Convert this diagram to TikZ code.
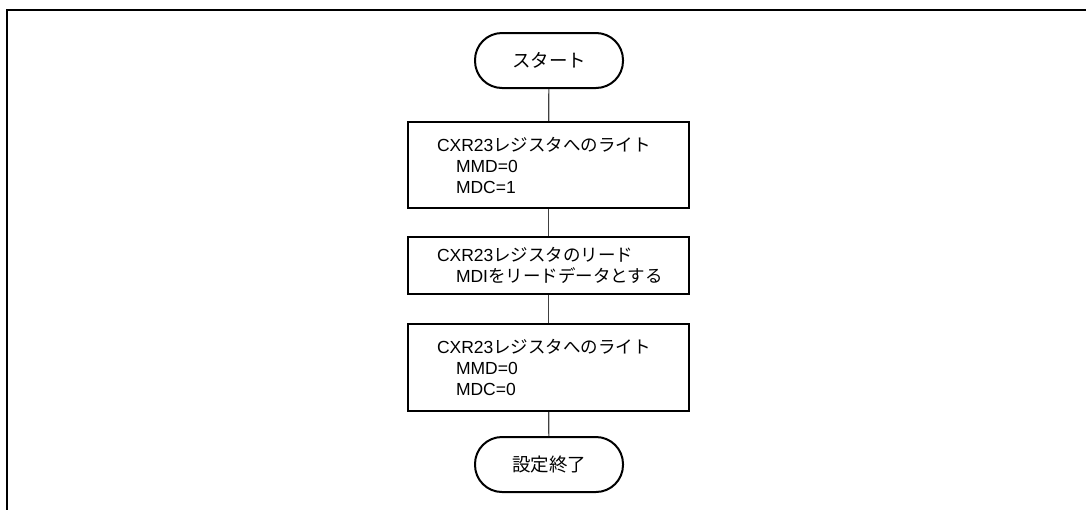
\documentclass[tikz,border=0pt]{standalone}
\usepackage{fontspec}
\setmainfont{Liberation Sans}
\newfontfamily\cjk{Noto Sans CJK JP}
\newcommand{\J}[1]{{\cjk #1}}
\begin{document}
\begin{tikzpicture}[x=1pt,y=-1pt,
  term/.style={draw, line width=2pt, rounded corners=27pt, minimum width=148pt, minimum height=55pt, inner sep=0pt, font=\fontsize{18.5}{22}\selectfont\cjk},
  procbox/.style={draw, line width=2.4pt, minimum width=281pt, inner sep=0pt},
  proctext/.style={anchor=west, align=left, inner sep=0pt, font=\fontsize{17.5}{21}\selectfont},
  conn/.style={line width=1.2pt, draw=black!75},
  frame/.style={line width=2pt}]
\useasboundingbox (0,0) rectangle (1086,509);
\draw[frame] (7,515) -- (7,10) -- (1092,10);

\node[term] (start) at (549,60.5) {スタート};
\node[procbox, minimum height=86pt] (b1) at (548.5,165) {};
\node[proctext] (t1) at ([xshift=30pt]b1.west) {CXR23\J{レジスタへのライト}\\\hspace*{19pt}MMD=0\\\hspace*{19pt}MDC=1};
\node[procbox, minimum height=57pt] (b2) at (548.5,265.5) {};
\node[proctext] (t2) at ([xshift=30pt]b2.west) {CXR23\J{レジスタのリード}\\\hspace*{19pt}MDI\J{をリードデータとする}};
\node[procbox, minimum height=87pt] (b3) at (548.5,367.5) {};
\node[proctext] (t3) at ([xshift=30pt]b3.west) {CXR23\J{レジスタへのライト}\\\hspace*{19pt}MMD=0\\\hspace*{19pt}MDC=0};
\node[term] (end) at (549,464.5) {設定終了};

\draw[conn] (start) -- (b1);
\draw[conn] (b1) -- (b2);
\draw[conn] (b2) -- (b3);
\draw[conn] (b3) -- (end);
\end{tikzpicture}
\end{document}
